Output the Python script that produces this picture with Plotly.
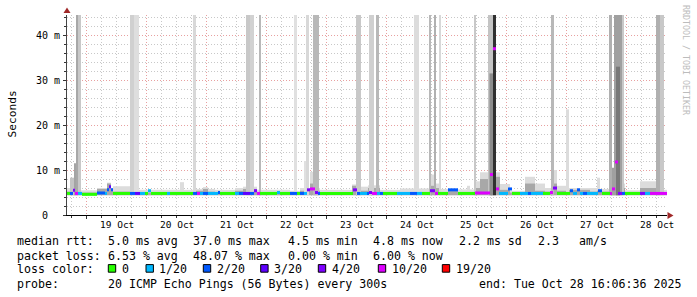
import plotly.graph_objects as go
import pandas as pd

# ---------------- data (hours measured from graph start) ----------------
START = pd.Timestamp("2025-10-18 16:06:36")
SPAN_H = 240.0
Y_TOP = 44.5  # ms, top of the visible scale

# loss categories
loss_labels = ["0", "1/20", "2/20", "3/20", "4/20", "10/20", "19/20"]
loss_colors = ["#26ff00", "#00b8ff", "#0059ff", "#5e00ff", "#7e00ff", "#dd00ff", "#ff0000"]

# median rtt line: run-length segments (start hour, loss category, median ms)
med_start_h = [0.0, 1.2, 2.4, 3.2, 4.4, 6.0, 12.0, 15.2, 16.0, 16.8, 17.6, 18.4, 25.2, 27.2, 29.2,
               31.2, 32.4, 33.6, 40.0, 41.2, 50.4, 52.0, 53.2, 54.4, 56.4, 60.4, 61.2, 67.2, 68.8,
               70.4, 73.2, 74.8, 76.0, 77.2, 84.0, 85.2, 89.2, 92.0, 93.2, 94.8, 96.0, 97.2, 99.2,
               100.4, 101.2, 114.4, 116.0, 117.2, 120.0, 120.8, 122.0, 124.0, 125.2, 126.4, 132.0,
               137.2, 140.0, 142.0, 145.2, 147.2, 148.4, 152.4, 156.4, 163.2, 169.2, 170.4, 171.6,
               172.8, 176.4, 178.0, 181.2, 184.4, 185.6, 190.4, 193.2, 194.4, 196.0, 201.2, 202.4,
               204.0, 205.2, 206.4, 208.0, 212.4, 214.0, 217.2, 218.0, 219.2, 220.4, 222.0, 223.2,
               229.2, 231.2, 233.2]
med_loss = [0, 2, 4, 5, 1, 0, 2, 1, 2, 3, 2, 0, 2, 3, 1,
            0, 1, 0, 1, 0, 2, 5, 1, 2, 1, 2, 0, 1, 2,
            3, 2, 4, 5, 0, 1, 0, 2, 0, 2, 1, 4, 5, 4,
            2, 0, 4, 2, 1, 2, 4, 5, 1, 2, 0, 1,
            2, 1, 0, 4, 5, 0, 2, 0, 5, 5, 5, 5,
            1, 2, 0, 1, 2, 1, 0, 5, 4, 0, 2, 1,
            2, 1, 2, 1, 2, 0, 5, 5, 5, 4, 2, 0,
            4, 1, 5]
med_ms = [4.8, 4.8, 5.5, 4.8, 4.8, 4.6, 4.9, 4.8, 5.6, 6.3, 5.6, 4.8, 4.8, 4.8, 4.8,
          4.8, 5.4, 4.8, 4.8, 4.8, 4.8, 4.8, 4.8, 4.8, 4.8, 5.0, 4.8, 4.8, 4.8,
          4.8, 4.8, 5.4, 4.8, 4.8, 5.0, 4.8, 4.8, 4.8, 4.8, 4.8, 5.6, 5.8, 5.0,
          4.8, 4.8, 5.6, 4.8, 4.8, 4.8, 5.0, 4.8, 4.8, 4.8, 4.8, 4.8,
          4.8, 4.8, 4.8, 5.4, 4.8, 4.8, 5.6, 4.8, 4.9, 9.0, 37.0, 5.8,
          4.8, 5.8, 4.8, 4.8, 4.8, 4.8, 4.8, 5.0, 6.0, 4.8, 5.4, 4.8,
          5.6, 4.8, 4.8, 4.8, 5.4, 4.8, 4.8, 5.8, 11.8, 4.8, 4.8, 4.8,
          4.8, 4.8, 4.8]

# smoke near the baseline: segments (start hour, light top ms, dark top ms)
smoke_start_h = [0.0, 5.6, 12.0, 16.0, 17.6, 18.4, 28.8, 45.2, 46.8, 51.6, 54.4, 56.4, 59.2, 67.2,
                 70.4, 76.0, 89.2, 93.2, 97.2, 99.2, 101.2, 114.0, 116.4, 120.4, 125.2, 133.2,
                 144.8, 146.8, 149.2, 152.4, 156.4, 160.0, 161.2, 163.2, 165.2, 171.6, 173.2,
                 177.2, 183.2, 187.2, 191.2, 194.8, 196.0, 200.8, 209.2, 212.0, 213.2, 216.8,
                 223.2, 229.2, 235.6, 238.8]
smoke_light_ms = [6.0, 5.5, 6.0, 7.2, 6.0, 6.4, 5.6, 7.3, 5.6, 5.8, 6.2, 5.8, 5.6, 6.0,
                  6.3, 5.6, 5.4, 6.0, 9.6, 6.0, 5.6, 6.8, 6.3, 6.6, 5.6, 5.9,
                  9.0, 7.0, 5.8, 5.6, 5.7, 6.5, 5.7, 7.5, 9.5, 9.5, 6.9,
                  5.4, 8.5, 7.0, 6.0, 10.0, 6.5, 6.0, 6.0, 8.3, 5.8, 7.0,
                  5.5, 7.5, 6.5, 5.6]
smoke_dark_ms = [5.2, 5.0, 5.8, 7.0, 5.4, 5.2, 5.0, 5.0, 5.0, 5.4, 5.8, 5.2, 5.0, 5.4,
                 5.8, 5.0, 5.0, 5.4, 7.0, 5.4, 5.0, 6.5, 5.4, 6.0, 5.0, 5.0,
                 6.5, 6.0, 5.0, 5.6, 5.0, 5.0, 5.0, 6.0, 8.0, 8.5, 5.6,
                 5.0, 7.0, 5.4, 5.2, 7.0, 5.4, 5.6, 5.2, 5.4, 5.2, 6.0,
                 5.0, 6.0, 5.6, 5.0]
SMOKE_BASE = 4.4

# tall smoke columns (start hour, duration hours, top ms, shade)
tall_start_h = [1.2, 2.8, 3.6, 4.4, 25.2, 26.8, 50.4, 71.6, 73.2, 76.8, 90.8, 94.8, 95.6, 98.4,
                115.6, 120.8, 123.6, 138.8, 144.8, 146.8, 148.8, 162.8, 168.4, 169.0, 170.4,
                193.6, 199.6, 216.8, 218.0, 218.8, 219.6, 222.0, 235.6, 237.2]
tall_dur_h = [1.6, 0.8, 0.8, 1.2, 1.6, 2.0, 1.2, 1.6, 1.6, 0.8, 1.2, 0.8, 1.2, 2.4,
              2.0, 2.0, 1.2, 2.0, 0.8, 0.8, 0.8, 0.8, 2.0, 1.5, 1.2,
              1.2, 1.2, 1.2, 0.8, 3.2, 1.6, 0.8, 1.6, 1.6]
tall_top_ms = [8.3, 11.5, 44.5, 44.5, 44.5, 44.5, 44.5, 44.5, 44.5, 44.5, 44.5, 12.0, 44.5, 44.5,
               44.5, 44.5, 44.5, 44.5, 44.5, 44.5, 44.5, 44.5, 44.5, 31.5, 44.5,
               44.5, 23.5, 44.5, 10.5, 44.5, 33.0, 44.5, 44.5, 44.5]
tall_shade = ["#c4c4c4", "#a4a4a4", "#a8a8a8", "#c8c8c8", "#d0d0d0", "#dedede", "#d8d8d8",
              "#c8c8c8", "#d2d2d2", "#b8b8b8", "#e0e0e0", "#e0e0e0", "#d8d8d8", "#b8b8b8",
              "#c8c8c8", "#d0d0d0", "#b8b8b8", "#dcdcdc", "#b8b8b8", "#b0b0b0", "#d8d8d8",
              "#c8c8c8", "#c4c4c4", "#8c8c8c", "#303030",
              "#b8b8b8", "#dcdcdc", "#b0b0b0", "#a0a0a0", "#a0a0a0", "#787878", "#c8c8c8",
              "#b0b0b0", "#c8c8c8"]

day_labels = ["19 Oct", "20 Oct", "21 Oct", "22 Oct", "23 Oct", "24 Oct", "25 Oct", "26 Oct",
              "27 Oct", "28 Oct"]
day_dates = ["2025-10-19", "2025-10-20", "2025-10-21", "2025-10-22", "2025-10-23", "2025-10-24",
             "2025-10-25", "2025-10-26", "2025-10-27", "2025-10-28"]
y_tick_vals = [0, 10, 20, 30, 40]
y_tick_text = ["0\u00a0\u00a0", "10 m", "20 m", "30 m", "40 m"]

rtt_stats = ["5.0 ms avg", "37.0 ms max", "4.5 ms min", "4.8 ms now", "2.2 ms sd", "2.3", "am/s"]
loss_stats = ["6.53 % avg", "48.07 % max", "0.00 % min", "6.00 % now"]
probe_text = "20 ICMP Echo Pings (56 Bytes) every 300s"
end_text = "end: Tue Oct 28 16:06:36 2025"

# ---------------- helpers ----------------
def t(h):
    return START + pd.Timedelta(hours=h)

PL, PT, PW, PH = 67, 15, 600, 200

def px_x(px):
    return (px - PL) / PW

def px_y(py):
    return (PT + PH - py) / PH

MONO = "DejaVu Sans Mono"
fig = go.Figure()

def add_bars(starts, durs, tops, base, colors):
    fig.add_trace(go.Bar(
        x=[t(s + d / 2) for s, d in zip(starts, durs)],
        y=[tp - base for tp in tops],
        base=[base] * len(starts),
        width=[d * 3600 * 1000 for d in durs],
        marker=dict(color=colors, line=dict(width=0)),
        hoverinfo="skip", showlegend=False))

smoke_end = smoke_start_h[1:] + [SPAN_H]
smoke_dur = [e - s for s, e in zip(smoke_start_h, smoke_end)]
add_bars(smoke_start_h, smoke_dur, smoke_light_ms, SMOKE_BASE, ["#dcdcdc"] * len(smoke_dur))
add_bars(smoke_start_h, smoke_dur, smoke_dark_ms, SMOKE_BASE, ["#a8a8a8"] * len(smoke_dur))
add_bars(tall_start_h, tall_dur_h, tall_top_ms, SMOKE_BASE, tall_shade)

med_end = med_start_h[1:] + [SPAN_H]
for li, col in enumerate(loss_colors):
    xs, ys = [], []
    for s, e, l, m in zip(med_start_h, med_end, med_loss, med_ms):
        if l == li:
            xs += [t(s), t(e), None]
            ys += [m, m, None]
    if xs:
        fig.add_trace(go.Scatter(x=xs, y=ys, mode="lines", line=dict(color=col, width=3),
                                 hoverinfo="skip", showlegend=False))

GRID = "rgb(200,200,200)"
MGRID = "rgb(232,160,160)"
DOT = "1px,2px"

fig.update_layout(
    width=697, height=297,
    margin=dict(l=PL, r=697 - PL - PW, t=PT, b=297 - PT - PH, pad=0),
    paper_bgcolor="white", plot_bgcolor="white",
    barmode="overlay", showlegend=False,
    xaxis=dict(type="date", range=[t(0), t(SPAN_H)],
               tickmode="array", tickvals=[d + " 00:00:00" for d in day_dates],
               showticklabels=False, showgrid=True, gridcolor=MGRID, griddash=DOT, gridwidth=1,
               ticks="outside", ticklen=3, tickcolor="#333",
               showline=True, linecolor="#000", linewidth=1, zeroline=False,
               minor=dict(tickmode="linear", tick0="2025-10-18 00:00:00", dtick=6 * 3600 * 1000,
                          showgrid=True, gridcolor=GRID, griddash=DOT, gridwidth=1,
                          ticks="outside", ticklen=2, tickcolor="#333")),
    yaxis=dict(range=[0, Y_TOP], tickmode="array", tickvals=y_tick_vals,
               showticklabels=False, showgrid=True, gridcolor=MGRID, griddash=DOT, gridwidth=1,
               ticks="outside", ticklen=3, tickcolor="#333",
               showline=True, linecolor="#444", linewidth=1, zeroline=False,
               minor=dict(tickmode="linear", tick0=0, dtick=2, showgrid=True, gridcolor=GRID,
                          griddash=DOT, gridwidth=1, ticks="outside", ticklen=2, tickcolor="#333")),
)

ann = []
black = dict(family=MONO, size=11.6, color="#000")
# y tick labels
for v, txt in zip(y_tick_vals, y_tick_text):
    ann.append(dict(x=px_x(60.5), y=v, xref="paper", yref="y", text=txt, showarrow=False,
                    xanchor="right", yanchor="middle", borderpad=0,
                    font=dict(family=MONO, size=10, color="#000")))
# x day labels at noon
for d, lab in zip(day_dates, day_labels):
    ann.append(dict(x=d + " 12:00:00", y=px_y(224.5), xref="x", yref="paper", text=lab,
                    showarrow=False, xanchor="center", yanchor="middle", borderpad=0,
                    font=dict(family=MONO, size=9.5, color="#000")))
# axis title and watermark
ann.append(dict(x=px_x(11.5), y=px_y(114), xref="paper", yref="paper", text="Seconds",
                textangle=-90, showarrow=False, xanchor="center", yanchor="middle", borderpad=0,
                font=dict(family=MONO, size=11.2, color="#000")))
ann.append(dict(x=px_x(686), y=px_y(60), xref="paper", yref="paper", text="RRDTOOL / TOBI OETIKER",
                textangle=90, showarrow=False, xanchor="center", yanchor="middle", borderpad=0,
                font=dict(family=MONO, size=8.3, color="#bcbcbc")))

ROW_Y = [241.3, 255.5, 269.2, 283.8]
row1 = [(16, "median rtt:")] + list(zip([107, 192, 287, 372, 458, 537, 578], rtt_stats))
row2 = [(16, "packet loss:")] + list(zip([107, 192, 287, 372], loss_stats))
row4 = [(16, "probe:"), (107, probe_text), (478, end_text)]
for ry, row in [(ROW_Y[0], row1), (ROW_Y[1], row2), (ROW_Y[3], row4)]:
    for xpx, txt in row:
        ann.append(dict(x=px_x(xpx), y=px_y(ry), xref="paper", yref="paper", text=txt,
                        showarrow=False, xanchor="left", yanchor="middle", borderpad=0, font=black))
ann.append(dict(x=px_x(16), y=px_y(ROW_Y[2]), xref="paper", yref="paper", text="loss color:",
                showarrow=False, xanchor="left", yanchor="middle", borderpad=0, font=black))

shapes = []
sq_x = [108.3, 146.0, 203.3, 260.7, 318.3, 378.3, 442.3]
for sx, col, lab in zip(sq_x, loss_colors, loss_labels):
    shapes.append(dict(type="rect", xref="paper", yref="paper",
                       x0=px_x(sx), x1=px_x(sx + 7.4), y0=px_y(272.2), y1=px_y(264.6),
                       fillcolor=col, line=dict(color="#000", width=1)))
    ann.append(dict(x=px_x(sx + 12.4), y=px_y(ROW_Y[2]), xref="paper", yref="paper", text=lab,
                    showarrow=False, xanchor="left", yanchor="middle", borderpad=0, font=black))

ARROW = "#a02828"
shapes.append(dict(type="path", xref="paper", yref="paper", fillcolor=ARROW, line=dict(width=0),
                   path=f"M {px_x(63.5)} {px_y(13)} L {px_x(67)} {px_y(7.5)} L {px_x(70.5)} {px_y(13)} Z"))
shapes.append(dict(type="path", xref="paper", yref="paper", fillcolor=ARROW, line=dict(width=0),
                   path=f"M {px_x(667.5)} {px_y(212)} L {px_x(673.5)} {px_y(215.5)} L {px_x(667.5)} {px_y(219)} Z"))

fig.update_layout(annotations=ann, shapes=shapes)
fig.write_html("out.html")
